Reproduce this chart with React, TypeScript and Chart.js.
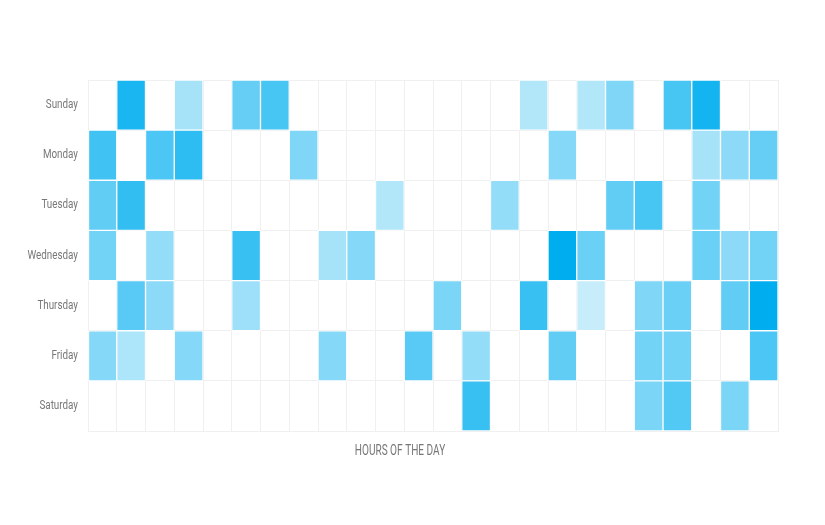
import React, { useEffect, useRef } from "react";
import { Chart, registerables } from "chart.js";

Chart.register(...registerables);

const days = ["Sunday", "Monday", "Tuesday", "Wednesday", "Thursday", "Friday", "Saturday"];
const hours = Array.from({ length: 24 }, (_, i) => String(i));

// activity per hour (0 = none, 100 = max)
const sunday = [0, 90, 0, 35, 0, 60, 72, 0, 0, 0, 0, 0, 0, 0, 0, 30, 0, 30, 50, 0, 72, 92, 0, 0];
const monday = [75, 0, 70, 82, 0, 0, 0, 50, 0, 0, 0, 0, 0, 0, 0, 0, 48, 0, 0, 0, 0, 35, 45, 60];
const tuesday = [62, 80, 0, 0, 0, 0, 0, 0, 0, 0, 30, 0, 0, 0, 42, 0, 0, 0, 62, 72, 0, 55, 0, 0];
const wednesday = [55, 0, 42, 0, 0, 78, 0, 0, 35, 48, 0, 0, 0, 0, 0, 0, 100, 58, 0, 0, 0, 58, 45, 55];
const thursday = [0, 65, 45, 0, 0, 38, 0, 0, 0, 0, 0, 0, 52, 0, 0, 78, 0, 22, 0, 50, 58, 0, 62, 100];
const friday = [48, 32, 0, 48, 0, 0, 0, 0, 48, 0, 0, 65, 0, 42, 0, 0, 62, 0, 0, 55, 55, 0, 0, 70];
const saturday = [0, 0, 0, 0, 0, 0, 0, 0, 0, 0, 0, 0, 0, 78, 0, 0, 0, 0, 0, 52, 68, 0, 52, 0];

const rows = [sunday, monday, tuesday, wednesday, thursday, friday, saturday];

const FONT = "Roboto, 'DejaVu Sans Condensed', sans-serif";

// narrow the axis text horizontally (condensed look of the original)
const condensePlugin = {
  id: "condense",
  afterLayout(chart: any) {
    const y = chart.scales.y;
    const x = chart.scales.x;
    if (y && !y.__patched) {
      y.__patched = true;
      const orig = y.drawLabels.bind(y);
      y.drawLabels = (area: any) => {
        const ctx = chart.ctx;
        const ax = y.right - y.options.ticks.padding;
        ctx.save();
        ctx.translate(ax, 0);
        ctx.scale(0.82, 1);
        ctx.translate(-ax, 0);
        orig(area);
        ctx.restore();
      };
    }
    if (x && !x.__patched) {
      x.__patched = true;
      const origT = x.drawTitle.bind(x);
      x.drawTitle = (area: any) => {
        const ctx = chart.ctx;
        const ax = (x.left + x.right) / 2;
        ctx.save();
        ctx.translate(ax - 33, 0);
        ctx.scale(0.72, 1);
        ctx.translate(-ax, 0);
        origT(area);
        ctx.restore();
      };
    }
  },
};

export default function App() {
  const ref = useRef<HTMLCanvasElement | null>(null);

  useEffect(() => {
    if (!ref.current) return;
    const datasets = hours.map((h, hi) => ({
      label: h,
      data: rows.map((r) => (r[hi] > 0 ? [hi, hi + 1] : null)),
      backgroundColor: rows.map((r) => `rgba(0,174,239,${r[hi] / 100})`),
      borderColor: "rgba(255,255,255,0.95)",
      borderWidth: 1,
      borderSkipped: false,
      barPercentage: 1,
      categoryPercentage: 1,
      grouped: false,
    }));
    const chart = new Chart(ref.current, {
      type: "bar",
      data: { labels: days, datasets: datasets as any },
      plugins: [condensePlugin],
      options: {
        indexAxis: "y",
        animation: false,
        responsive: true,
        maintainAspectRatio: false,
        layout: { padding: { top: 80, right: 47, bottom: 0, left: 0 } },
        plugins: { legend: { display: false }, tooltip: { enabled: false } },
        scales: {
          x: {
            type: "linear",
            min: 0,
            max: 24,
            ticks: { display: false, stepSize: 1 },
            grid: { color: "#f0f0f0", drawTicks: false, lineWidth: 1 },
            border: { color: "#f0f0f0" },
            title: {
              display: true,
              text: "HOURS OF THE DAY",
              color: "#777",
              font: { family: FONT, size: 14 },
              padding: { top: 12, bottom: 65.2 },
            },
            afterFit: (s: any) => {
              s.height = 94;
            },
          },
          y: {
            type: "category",
            offset: true,
            ticks: { color: "#777", font: { family: FONT, size: 12 }, padding: 10 },
            grid: { color: "#f0f0f0", drawTicks: false, offset: true },
            border: { color: "#f0f0f0" },
            afterFit: (s: any) => {
              s.width = 88;
            },
          },
        },
      },
    });
    chart.draw();
    return () => chart.destroy();
  }, []);

  return (
    <div style={{ position: "absolute", left: 0, top: 0, width: 825, height: 525, background: "#fff" }}>
      <canvas ref={ref} />
    </div>
  );
}
